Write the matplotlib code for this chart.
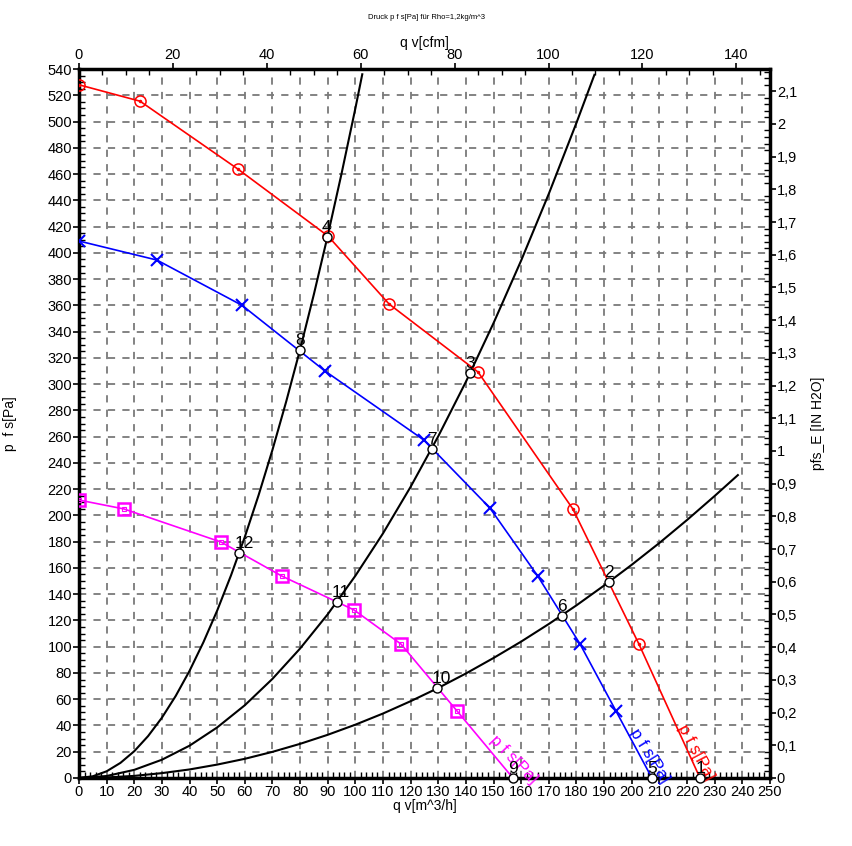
import matplotlib
matplotlib.use("Agg")
import matplotlib.pyplot as plt
from matplotlib.ticker import MultipleLocator, FuncFormatter

plt.rcParams["font.family"] = ["Liberation Sans", "DejaVu Sans"]

# fan curves (q in m^3/h, p in Pa), marker points
red_q = [0, 22.1, 57.5, 90.1, 112.2, 144.4, 178.7, 202.6, 224.7]
red_p = [528, 515.5, 463.8, 412.8, 361, 309.2, 204.9, 102, 0]
blue_q = [0, 28.2, 59, 89, 124.8, 148.7, 166, 181.3, 194.3, 207.3]
blue_p = [409, 394.5, 360, 310, 257.4, 205.6, 153.8, 102, 51, 0]
mag_q = [0, 16.3, 51.4, 73.4, 99.5, 116.5, 136.8, 157]
mag_p = [211.7, 204.9, 179.7, 153.8, 128, 102, 51, 0]

# system curves
sys1_q = [0, 5, 10, 15, 20, 25, 30, 35, 40, 45, 50, 55, 60, 65, 70, 75, 80, 85,
          90, 95, 100, 102.5]
sys1_p = [0, 1.3, 5.1, 11.5, 20.4, 31.9, 45.9, 62.5, 81.6, 103.3, 127.5, 154.3,
          183.6, 215.5, 249.9, 286.9, 326.4, 368.5, 413.1, 460.3, 510, 536]
sys2_q = [0, 10, 20, 30, 40, 50, 60, 70, 80, 90, 100, 110, 120, 130, 140, 150,
          160, 170, 180, 186.5]
sys2_p = [0, 1.5, 6.2, 13.9, 24.6, 38.5, 55.4, 75.5, 98.6, 124.7, 154, 186.3,
          221.8, 260.3, 301.8, 346.5, 394.2, 445, 499, 535.6]
sys3_q = [0, 10, 20, 30, 40, 50, 60, 70, 80, 90, 100, 110, 120, 130, 140, 150,
          160, 170, 180, 190, 200, 210, 220, 230, 238.4]
sys3_p = [0, 0.4, 1.6, 3.7, 6.5, 10.2, 14.6, 19.9, 26, 32.9, 40.6, 49.1, 58.5,
          68.6, 79.6, 91.4, 103.9, 117.3, 131.5, 146.6, 162.4, 179, 196.5, 214.8, 230.7]

# operating points 1..12
op_labels = ["1", "2", "3", "4", "5", "6", "7", "8", "9", "10", "11", "12"]
op_q = [224.8, 191.7, 141.5, 89.7, 207.5, 174.7, 127.7, 80, 157, 129.5, 93.3, 57.9]
op_p = [0, 149.3, 308.5, 412, 0, 123.4, 250.6, 326, 0, 68.5, 134, 171.4]

CFM = 1.699
INH2O = 249.09

fig = plt.figure(figsize=(8.53, 8.46), dpi=100)
ax = fig.add_axes([0.0926, 0.0804, 0.81, 0.838])

ax.set_xlim(0, 250)
ax.set_ylim(0, 540)

ax.grid(True, color="#7a7a7a", linestyle=(0, (4, 4)), linewidth=1.3)
ax.set_axisbelow(True)

for q, p in [(sys1_q, sys1_p), (sys2_q, sys2_p), (sys3_q, sys3_p)]:
    ax.plot(q, p, color="black", lw=1.5, zorder=3)

ax.plot(red_q, red_p, color="red", lw=1.2, zorder=4)
ax.plot(red_q[:-1], red_p[:-1], "o", ms=8, mfc="none", mec="red", mew=1.1, zorder=5)
ax.plot(red_q[:-1], red_p[:-1], ".", ms=3, color="red", zorder=5)

ax.plot(blue_q, blue_p, color="#0000ff", lw=1.2, zorder=4)
ax.plot(blue_q[:-1], blue_p[:-1], "x", ms=8, color="#0000ff", mew=1.5, zorder=5)

ax.plot(mag_q, mag_p, color="#ff00ff", lw=1.2, zorder=4)
ax.plot(mag_q[:-1], mag_p[:-1], "s", ms=8, mfc="none", mec="#ff00ff", mew=1.8, zorder=5)
ax.plot(mag_q[:-1], mag_p[:-1], "s", ms=3, mfc="none", mec="#ff00ff", mew=0.8, zorder=5)

ax.plot(op_q, op_p, "o", ms=6.5, mfc="white", mec="black", mew=1.0, zorder=6, clip_on=False)
for lab, q, p in zip(op_labels, op_q, op_p):
    ax.annotate(lab, (q, p), xytext=(-3.5, 1.5), textcoords="offset points",
                fontsize=12.5, ha="left", va="bottom", zorder=7)

ax.text(157.4, 13.7, "p f s[Pa]", color="#ff00ff", fontsize=12, rotation=-46,
        ha="center", va="center")
ax.text(206.6, 16.8, "p f s[Pa]", color="#0000ff", fontsize=12, rotation=-58,
        ha="center", va="center")
ax.text(223.2, 19.8, "p f s[Pa]", color="red", fontsize=12, rotation=-62,
        ha="center", va="center")

ax.xaxis.set_major_locator(MultipleLocator(10))
ax.xaxis.set_minor_locator(MultipleLocator(2))
ax.yaxis.set_major_locator(MultipleLocator(20))
ax.yaxis.set_minor_locator(MultipleLocator(5))
ax.tick_params(which="major", direction="out", length=4, width=1.2, labelsize=10.5, pad=1)
ax.tick_params(which="minor", direction="in", length=4, width=1.0)

for s in ax.spines.values():
    s.set_linewidth(2.5)

ax.set_xlabel("q v[m^3/h]", fontsize=10, labelpad=0)
ax.set_ylabel("p  f s[Pa]", fontsize=10, labelpad=22)

top = ax.secondary_xaxis("top", functions=(lambda x: x / CFM, lambda x: x * CFM))
top.xaxis.set_major_locator(MultipleLocator(20))
top.xaxis.set_minor_locator(MultipleLocator(5))
top.tick_params(which="major", direction="out", length=4, width=1.2, labelsize=10.5, pad=1)
top.tick_params(which="minor", direction="in", length=4, width=1.0)
top.set_xlabel("q v[cfm]", fontsize=10, labelpad=1)

right = ax.secondary_yaxis("right", functions=(lambda y: y / INH2O, lambda y: y * INH2O))
right.yaxis.set_major_locator(MultipleLocator(0.1))
right.yaxis.set_minor_locator(MultipleLocator(0.02))
right.yaxis.set_major_formatter(FuncFormatter(lambda v, _: ("%g" % round(v, 2)).replace(".", ",")))
right.tick_params(which="major", direction="out", length=4, width=1.2, labelsize=10.5, pad=1)
right.tick_params(which="minor", direction="in", length=4, width=1.0)
right.set_ylabel("pfs_E [IN H2O]", fontsize=10, labelpad=10)

fig.text(0.5, 0.979, "Druck p f s[Pa] für Rho=1,2kg/m^3", fontsize=5.5, ha="center", va="center")

fig.savefig("out.png", dpi=100)
